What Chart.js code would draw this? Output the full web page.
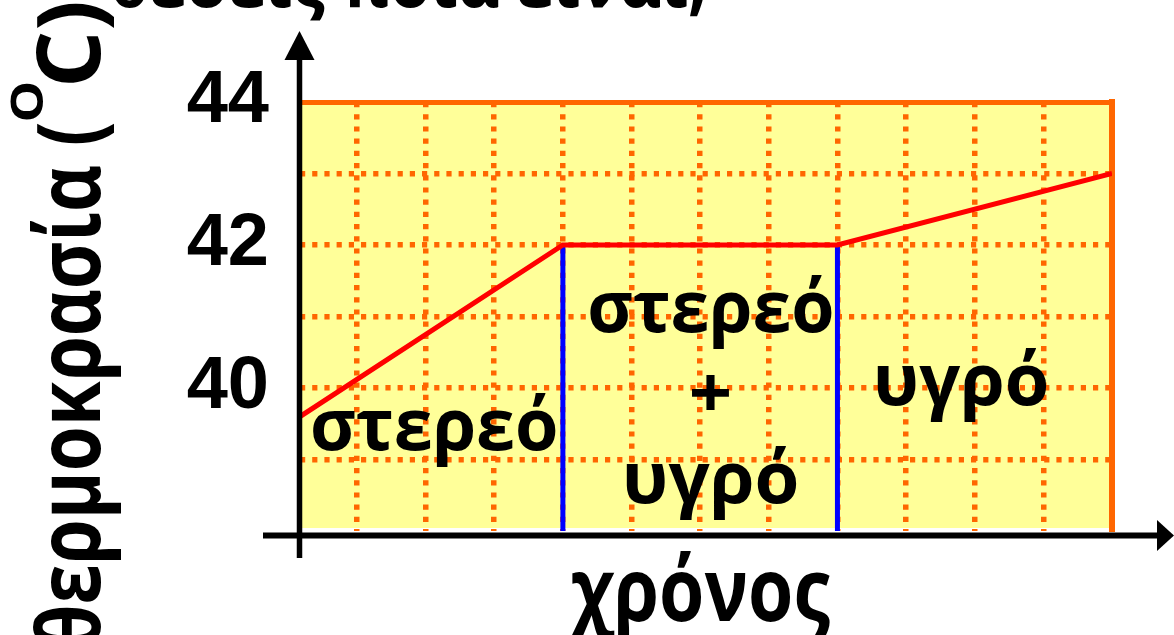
<!DOCTYPE html>
<html><head><meta charset="utf-8">
<style>html,body{margin:0;padding:0;background:#fff;overflow:hidden}</style>
<script src="https://cdn.jsdelivr.net/npm/chart.js@4.4.1/dist/chart.umd.min.js"></script>
</head><body>
<canvas id="c" width="1174" height="635" style="display:block;width:1174px;height:635px"></canvas>
<script>
// ---- data ----
const timePoints = [0.17, 4, 8, 12];
const temperatures = [39.6, 42, 42, 43];
const boundaryTimes = [4, 8];
const boundaryTemps = [42, 38];
const xGridTicks = [1, 2, 3, 4, 5, 6, 7, 8, 9, 10, 11];
const yTicks = [38, 39, 40, 41, 42, 43, 44];
const yLabelledTicks = [40, 42, 44];
const xRange = [0.17, 12];
const yRange = [38, 44];
// ---- annotation texts (anchored in data units) ----
const phaseLabels = ['στερεό', 'στερεό', '+', 'υγρό', 'υγρό'];
const phaseLabelTimes = [2.13, 6.16, 6.15, 6.17, 9.82];
const phaseLabelTemps = [39.13, 40.78, 39.58, 38.39, 39.76];
const yTitleParts = ['θερμοκρασία (', 'O', 'C)'];
const xTitle = 'χρόνος';
const headerText = 'θέσεις ποια είναι;';

// ---- styles ----
const ORANGE = '#FF6600';
const GRID_DASH = [5.2, 7];
const GRID_WIDTH = 5.5;
const GREEK = '"Open Sans", "Noto Sans", "DejaVu Sans", sans-serif';
const labelInkWidths = [243, 242, 37, 170, 169];
const LABEL_SIZE = 72;

function fitInk(ctx, text, size, inkLeft, baseline, inkWidth, rot) {
  ctx.save();
  ctx.font = 'bold ' + size + 'px ' + GREEK;
  ctx.textAlign = 'left';
  ctx.textBaseline = 'alphabetic';
  const m = ctx.measureText(text);
  const abl = m.actualBoundingBoxLeft, abr = m.actualBoundingBoxRight;
  const sx = inkWidth ? inkWidth / (abl + abr) : 1;
  ctx.translate(inkLeft, baseline);
  if (rot) ctx.rotate(rot);
  ctx.scale(sx, 1);
  ctx.fillStyle = '#000';
  ctx.fillText(text, abl, 0);
  ctx.restore();
}

const yellowBg = {
  id: 'yellowBg',
  beforeDraw(chart) {
    const {ctx, chartArea: a} = chart;
    ctx.save();
    ctx.fillStyle = '#FFFF99';
    ctx.fillRect(a.left, a.top, a.right - a.left, a.bottom - a.top - 3);
    ctx.restore();
  }
};

const decorations = {
  id: 'decorations',
  afterDatasetsDraw(chart) {
    const {ctx, chartArea: a, scales} = chart;
    const W = chart.width;
    ctx.save();
    // black axes with arrows
    ctx.fillStyle = '#000';
    ctx.strokeStyle = '#000';
    const axY = a.bottom + 4.5;
    ctx.lineWidth = 6;
    ctx.beginPath(); ctx.moveTo(a.left - 37, axY); ctx.lineTo(W - 16, axY); ctx.stroke();
    ctx.beginPath(); ctx.moveTo(W - 17, axY - 15.5); ctx.lineTo(W, axY); ctx.lineTo(W - 17, axY + 15.5); ctx.closePath(); ctx.fill();
    const axX = a.left - 0.5;
    ctx.lineWidth = 5.5;
    ctx.beginPath(); ctx.moveTo(axX, a.bottom + 27); ctx.lineTo(axX, a.top - 42); ctx.stroke();
    ctx.beginPath(); ctx.moveTo(axX - 15, a.top - 42); ctx.lineTo(axX, a.top - 71); ctx.lineTo(axX + 15, a.top - 42); ctx.closePath(); ctx.fill();
    ctx.restore();

    // phase labels
    phaseLabels.forEach((t, i) => {
      const cx = scales.x.getPixelForValue(phaseLabelTimes[i]);
      const by = scales.y.getPixelForValue(phaseLabelTemps[i]);
      const w = labelInkWidths[i];
      fitInk(ctx, t, LABEL_SIZE, cx - w / 2, by, w, 0);
    });

    // x title
    const xc = (a.left + a.right) / 2 - 7;
    fitInk(ctx, xTitle, 88, xc - 131, 621, 262, 0);

    // y title (rotated)
    fitInk(ctx, yTitleParts[0], 88, 100, 647, 524, -Math.PI / 2);
    fitInk(ctx, yTitleParts[1], 44, 43, 120, 37, -Math.PI / 2);
    fitInk(ctx, yTitleParts[2], 88, 100, 83, 80, -Math.PI / 2);

    // header (cut by top edge)
    fitInk(ctx, headerText, 70, 112, 7, 591, 0);
  }
};

new Chart(document.getElementById('c'), {
  type: 'line',
  data: {
    datasets: [
      {
        label: 'θερμοκρασία',
        data: timePoints.map((t, i) => ({x: t, y: temperatures[i]})),
        borderColor: '#FF0000', borderWidth: 5, pointRadius: 0, tension: 0, fill: false
      },
      {
        label: 'όριο στερεό / στερεό+υγρό',
        data: boundaryTemps.map(v => ({x: boundaryTimes[0], y: v})),
        borderColor: '#0000FF', borderWidth: 5, pointRadius: 0, fill: false
      },
      {
        label: 'όριο στερεό+υγρό / υγρό',
        data: boundaryTemps.map(v => ({x: boundaryTimes[1], y: v})),
        borderColor: '#0000FF', borderWidth: 5, pointRadius: 0, fill: false
      }
    ]
  },
  options: {
    responsive: false,
    animation: false,
    devicePixelRatio: 1,
    layout: {padding: 0},
    plugins: {legend: {display: false}, tooltip: {enabled: false}, title: {display: false}},
    scales: {
      x: {
        type: 'linear', position: 'bottom', min: xRange[0], max: xRange[1],
        afterBuildTicks: s => { s.ticks = xGridTicks.map(v => ({value: v})); },
        ticks: {display: false, autoSkip: false},
        grid: {color: ORANGE, lineWidth: GRID_WIDTH, drawTicks: false},
        border: {display: false, dash: GRID_DASH},
        afterFit: s => { s.height = 104; }
      },
      x2: {
        type: 'linear', position: 'top', min: xRange[0], max: xRange[1],
        ticks: {display: false},
        grid: {display: false},
        border: {display: true, color: ORANGE, width: 5},
        afterFit: s => { s.height = 102; }
      },
      y: {
        type: 'linear', position: 'left', min: yRange[0], max: yRange[1],
        afterBuildTicks: s => { s.ticks = yTicks.map(v => ({value: v})); },
        ticks: {
          autoSkip: false,
          callback: v => yLabelledTicks.includes(v) ? String(v) : '',
          font: {family: '"Liberation Sans", Arial, sans-serif', weight: 'bold', size: 74},
          color: '#000', padding: 31
        },
        grid: {
          color: c => (c.tick && (c.tick.value === yRange[0] || c.tick.value === yRange[1])) ? 'rgba(0,0,0,0)' : ORANGE,
          lineWidth: GRID_WIDTH, drawTicks: false
        },
        border: {display: false, dash: GRID_DASH},
        afterFit: s => { s.width = 300; }
      },
      y2: {
        type: 'linear', position: 'right', min: yRange[0], max: yRange[1],
        ticks: {display: false},
        grid: {display: false},
        border: {display: true, color: ORANGE, width: 6},
        afterFit: s => { s.width = 62; }
      }
    }
  },
  plugins: [yellowBg, decorations]
});
</script>
</body></html>
